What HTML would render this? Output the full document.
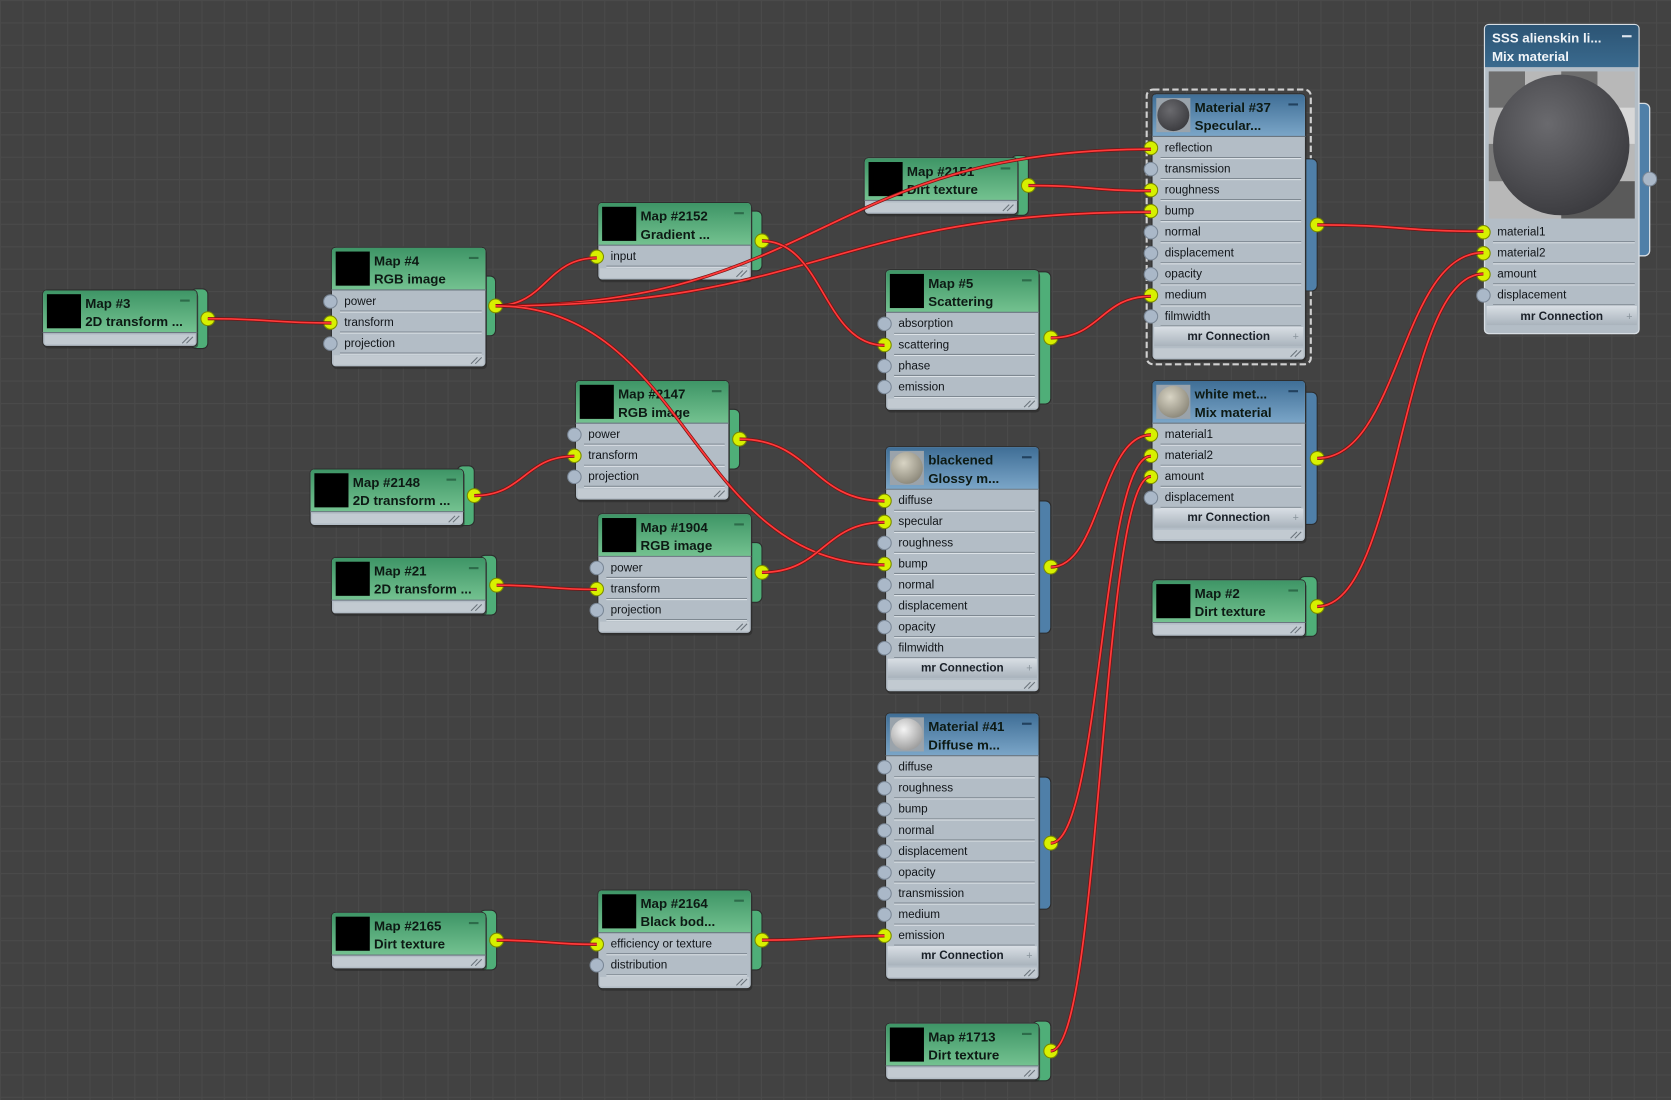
<!DOCTYPE html>
<html><head><meta charset="utf-8">
<style>
html,body{margin:0;padding:0;background:#434343;width:1671px;height:1100px;overflow:hidden}
svg{display:block}
text{font-family:"Liberation Sans",Arial,sans-serif}
</style></head>
<body>
<svg id="s" width="1671" height="1100" viewBox="0 0 1568 1032" preserveAspectRatio="none" xmlns="http://www.w3.org/2000/svg">
<defs>
<pattern id="grid" width="21" height="21" patternUnits="userSpaceOnUse"><rect width="21" height="21" fill="#424242"/><path d="M0 .5H21M.5 0V21" stroke="#4a4a4a" stroke-width="1"/></pattern>
<linearGradient id="gh" x1="0" y1="0" x2="0" y2="1"><stop offset="0" stop-color="#3e9566"/><stop offset="1" stop-color="#74c290"/></linearGradient>
<linearGradient id="bh" x1="0" y1="0" x2="0" y2="1"><stop offset="0" stop-color="#3f6e96"/><stop offset="1" stop-color="#7ba6c8"/></linearGradient>
<linearGradient id="dh" x1="0" y1="0" x2="0" y2="1"><stop offset="0" stop-color="#2c5474"/><stop offset="1" stop-color="#3a6a8e"/></linearGradient>
<linearGradient id="ft" x1="0" y1="0" x2="0" y2="1"><stop offset="0" stop-color="#d8dee4"/><stop offset="1" stop-color="#a9b3bc"/></linearGradient>
<radialGradient id="sph" cx=".4" cy=".35" r=".7"><stop offset="0" stop-color="#6a6a6e"/><stop offset="1" stop-color="#3a3a3e"/></radialGradient>
<radialGradient id="sphw" cx=".4" cy=".35" r=".7"><stop offset="0" stop-color="#f4f4f4"/><stop offset="1" stop-color="#9a9a9a"/></radialGradient>
<radialGradient id="sphg" cx=".4" cy=".35" r=".7"><stop offset="0" stop-color="#d8d4c4"/><stop offset="1" stop-color="#8a8678"/></radialGradient>
</defs>
<rect width="1568" height="1032" fill="url(#grid)"/>
<g id="g"></g>
</svg>
<script>
const nodes=[
 {x:40,y:272,w:145,t1:"Map #3",t2:"2D  transform ...",c:"g",rows:[],out:[195,299]},
 {x:311,y:232,w:145,t1:"Map #4",t2:"RGB image",c:"g",rows:["power","transform","projection"],on:[1],out:[465,287]},
 {x:561,y:190,w:144,t1:"Map #2152",t2:"Gradient ...",c:"g",rows:["input"],on:[0],out:[715,226]},
 {x:811,y:148,w:144,t1:"Map #2151",t2:"Dirt texture",c:"g",rows:[],out:[965,174]},
 {x:831,y:253,w:144,t1:"Map #5",t2:"Scattering",c:"g",rows:["absorption","scattering","phase","emission"],on:[1],out:[986,317]},
 {x:1081,y:88,w:144,t1:"Material #37",t2:"Specular...",c:"b",img:"sph",rows:["reflection","transmission","roughness","bump","normal","displacement","opacity","medium","filmwidth"],on:[0,2,3,7],mr:1,out:[1236,211],sel:1},
 {x:540,y:357,w:144,t1:"Map #2147",t2:"RGB image",c:"g",rows:["power","transform","projection"],on:[1],out:[694,412]},
 {x:291,y:440,w:144,t1:"Map #2148",t2:"2D  transform ...",c:"g",rows:[],out:[445,465]},
 {x:311,y:523,w:145,t1:"Map #21",t2:"2D  transform ...",c:"g",rows:[],out:[466,549]},
 {x:561,y:482,w:144,t1:"Map #1904",t2:"RGB image",c:"g",rows:["power","transform","projection"],on:[1],out:[715,537]},
 {x:831,y:419,w:144,t1:"blackened",t2:"Glossy  m...",c:"b",img:"sphg",rows:["diffuse","specular","roughness","bump","normal","displacement","opacity","filmwidth"],on:[0,1,3],mr:1,out:[986,532]},
 {x:1081,y:357,w:144,t1:"white  met...",t2:"Mix material",c:"b",img:"sphg",rows:["material1","material2","amount","displacement"],on:[0,1,2],mr:1,out:[1236,430]},
 {x:1081,y:544,w:144,t1:"Map #2",t2:"Dirt texture",c:"g",rows:[],out:[1236,569]},
 {x:831,y:669,w:144,t1:"Material #41",t2:"Diffuse  m...",c:"b",img:"sphw",rows:["diffuse","roughness","bump","normal","displacement","opacity","transmission","medium","emission"],on:[8],mr:1,out:[986,791]},
 {x:311,y:856,w:145,t1:"Map #2165",t2:"Dirt texture",c:"g",rows:[],out:[466,882]},
 {x:561,y:835,w:144,t1:"Map #2164",t2:"Black  bod...",c:"g",rows:["efficiency or texture","distribution"],on:[0],out:[715,882]},
 {x:831,y:960,w:144,t1:"Map #1713",t2:"Dirt texture",c:"g",rows:[],out:[986,986]},
];
const RH=19.75;
let h="";
const links=[[195,299,311,303],[465,287,560,242],[465,287,1080,140],[465,287,1080,199],[465,287,830,530],[715,226,830,324],[965,174,1080,179],[986,317,1080,278],[1236,211,1392,217],[445,465,539,428],[694,412,830,470],[466,549,560,553],[715,537,830,490],[986,532,1080,408],[986,791,1080,428],[986,986,1080,447],[1236,430,1392,237],[1236,569,1392,257],[466,882,560,886],[715,882,830,878]];
function node(n){
 const hh=40, body=n.rows.length*RH, mr=n.mr?19:0, H=hh+body+mr+13;
 const hc=n.c=="g"?"url(#gh)":"url(#bh)", tab=n.c=="g"?"#4fae78":"#4f7fa8";
 let s="";
 if(n.sel) s+=`<rect x="${n.x-5}" y="${n.y-4}" width="${n.w+10}" height="${H+8}" rx="6" fill="none" stroke="#d0d0d0" stroke-width="2" stroke-dasharray="6 3"/>`;
 // tab
 const ty=n.out[1];
 s+=`<rect x="${n.x+n.w-6}" y="${ty-(n.rows.length>3?62:28)}" width="${n.out[0]-n.x-n.w+6}" height="${n.rows.length>3?124:56}" rx="5" fill="${tab}" stroke="#2c2c2c" stroke-width="1"/>`;
 s+=`<rect x="${n.x+1}" y="${n.y+2}" width="${n.w}" height="${H}" rx="4" fill="#2a2a2a" opacity=".6"/>`;
 s+=`<rect x="${n.x}" y="${n.y}" width="${n.w}" height="${H}" rx="4" fill="#b3bdc6" stroke="#2e2e2e"/>`;
 s+=`<path d="M${n.x+.5} ${n.y+hh}V${n.y+4}q0-3.5 3.5-3.5H${n.x+n.w-4}q3.5 0 3.5 3.5V${n.y+hh}Z" fill="${hc}"/>`;
 s+=`<line x1="${n.x}" y1="${n.y+hh}" x2="${n.x+n.w}" y2="${n.y+hh}" stroke="#6b7680"/>`;
 if(n.img) s+=`<rect x="${n.x+4}" y="${n.y+4}" width="32" height="32" fill="#9aa3ab"/><circle cx="${n.x+20}" cy="${n.y+20}" r="15" fill="url(#${n.img})"/>`;
 else s+=`<rect x="${n.x+4}" y="${n.y+4}" width="32" height="32" fill="#000"/>`;
 s+=`<text x="${n.x+40}" y="${n.y+17}" font-size="12.5" font-weight="bold" fill="#0d1a14">${n.t1}</text><text x="${n.x+40}" y="${n.y+34}" font-size="12.5" font-weight="bold" fill="#0d1a14">${n.t2}</text>`;
 s+=`<rect x="${n.x+n.w-16}" y="${n.y+9}" width="9" height="2" fill="${n.c=="g"?"#2d6b4a":"#22415e"}"/>`;
 n.rows.forEach((r,i)=>{const yy=n.y+hh+i*RH;
  s+=`<line x1="${n.x+8}" y1="${yy+RH}" x2="${n.x+n.w-4}" y2="${yy+RH}" stroke="#7e8891"/><line x1="${n.x+8}" y1="${yy+RH+1}" x2="${n.x+n.w-4}" y2="${yy+RH+1}" stroke="#dce2e7"/>`;
  s+=`<text x="${n.x+12}" y="${yy+14}" font-size="11" fill="#101418">${r}</text>`;
 });
 n.rows.forEach((r,i)=>{const yy=n.y+hh+i*RH+RH/2+1;const on=n.on&&n.on.includes(i);
  s+=`<circle cx="${n.x-1}" cy="${yy}" r="6.3" fill="${on?"#d7f000":"#aab8c8"}" stroke="${on?"#7a8a00":"#7a8796"}"/>`;});
 const fy=n.y+hh+body;
 if(n.mr){s+=`<rect x="${n.x+2}" y="${fy+1}" width="${n.w-4}" height="${mr-1}" fill="url(#ft)"/><text x="${n.x+n.w/2}" y="${fy+13}" font-size="11" font-weight="bold" text-anchor="middle" fill="#1a2028">mr Connection</text><text x="${n.x+n.w-12}" y="${fy+13}" font-size="10" fill="#8a949c">+</text>`;}
 s+=`<rect x="${n.x+2}" y="${fy+mr+2}" width="${n.w-4}" height="9" fill="#c2cad1"/><path d="M${n.x+n.w-14} ${n.y+H-3}l6-6M${n.x+n.w-10} ${n.y+H-3}l6-6" stroke="#6b747c"/>`;
 s+=`<circle cx="${n.out[0]}" cy="${n.out[1]}" r="6.5" fill="#d7f000" stroke="#7a8a00"/>`;
 return s;
}
// SSS node
function sss(){
 const x=1393,y=23,w=145;let s="";
 s+=`<rect x="${x+w-6}" y="97" width="16" height="143" rx="5" fill="#4f7fa8" stroke="#d8dee4" stroke-width="1.2"/>`;
 s+=`<rect x="${x}" y="${y}" width="${w}" height="290" rx="4" fill="#b3bdc6" stroke="#d8dee4" stroke-width="1.2"/>`;
 s+=`<path d="M${x+.5} ${y+40}V${y+4}q0-3.5 3.5-3.5H${x+w-4}q3.5 0 3.5 3.5V${y+40}Z" fill="url(#dh)"/>`;
 s+=`<text x="${x+7}" y="${y+17}" font-size="12.5" font-weight="bold" fill="#f0f4f8">SSS alienskin li...</text><text x="${x+7}" y="${y+34}" font-size="12.5" font-weight="bold" fill="#f0f4f8">Mix material</text><rect x="${x+w-16}" y="${y+10}" width="9" height="2" fill="#dfe6ee"/>`;
 s+=`<rect x="1397" y="67" width="137" height="138" fill="#b8b8b8"/><rect x="1397" y="67" width="34" height="34" fill="#6e6e6e"/><rect x="1465" y="67" width="34" height="34" fill="#6e6e6e"/><rect x="1431" y="101" width="34" height="34" fill="#d8d8d8"/><rect x="1499" y="101" width="35" height="34" fill="#d8d8d8"/><rect x="1397" y="135" width="34" height="35" fill="#7a7a7a"/><rect x="1465" y="170" width="69" height="35" fill="#5a5a5a"/>`;
 s+=`<ellipse cx="1465" cy="136" rx="64" ry="66" fill="url(#sph)"/>`;
 ["material1","material2","amount","displacement"].forEach((r,i)=>{const yy=207+i*RH;
  s+=`<line x1="${x+8}" y1="${yy+RH}" x2="${x+w-4}" y2="${yy+RH}" stroke="#7e8891"/><line x1="${x+8}" y1="${yy+RH+1}" x2="${x+w-4}" y2="${yy+RH+1}" stroke="#dce2e7"/><text x="${x+12}" y="${yy+14}" font-size="11" fill="#101418">${r}</text>`;
  s+=`<circle cx="${x-1}" cy="${yy+RH/2+1}" r="6.3" fill="${i<3?"#d7f000":"#aab8c8"}" stroke="${i<3?"#7a8a00":"#7a8796"}"/>`;});
 s+=`<rect x="${x+2}" y="287" width="${w-4}" height="18" fill="url(#ft)"/><text x="${x+w/2}" y="300" font-size="11" font-weight="bold" text-anchor="middle" fill="#1a2028">mr Connection</text><text x="${x+w-12}" y="300" font-size="10" fill="#8a949c">+</text>`;
 s+=`<circle cx="1548" cy="168" r="6.5" fill="#aab8c8" stroke="#7a8796"/>`;
 return s;
}
let L="";
links.forEach(([a,b,c,d])=>{const m=(c-a)/2;const p=`M${a} ${b}C${a+m} ${b} ${c-m} ${d} ${c} ${d}`;L+=`<path d="${p}" fill="none" stroke="#7a1010" stroke-width="3"/><path d="${p}" fill="none" stroke="#ff3b3b" stroke-width="1.6"/>`;});
let N=nodes.map(node).join("")+sss();
document.getElementById("g").innerHTML=N+L;
</script>
</body></html>
